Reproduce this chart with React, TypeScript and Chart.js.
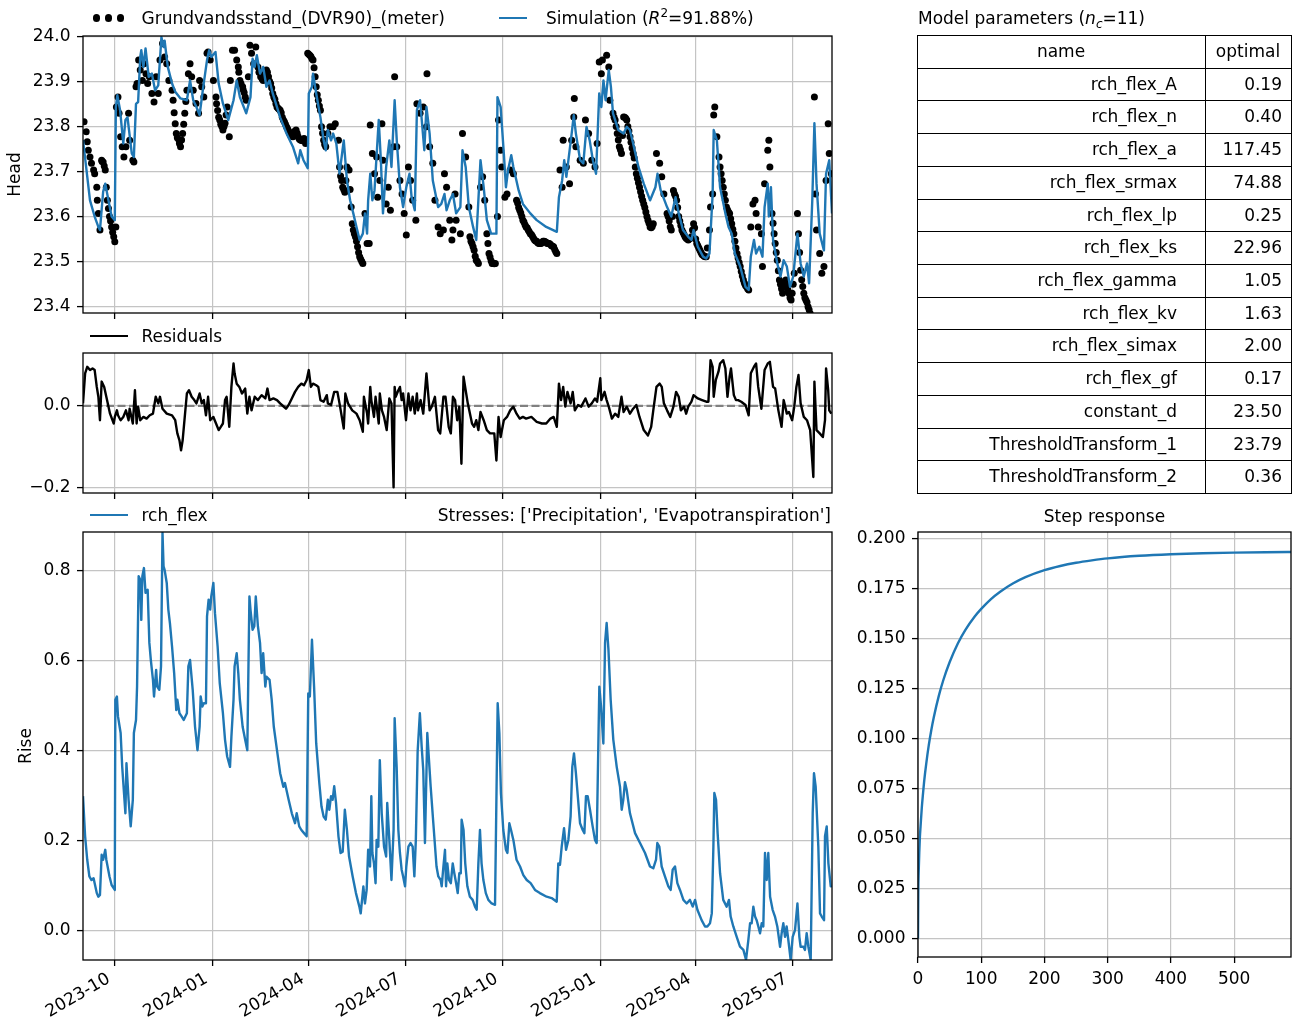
import React, { useEffect, useRef } from "react";
import { Chart, registerables } from "chart.js";

Chart.register(...registerables);

// ---------------- data ----------------
const START = Date.UTC(2023, 8, 1); // day 0 = 2023-09-01
const DAY_MS = 86400000;
const X_END_DAYS = 706.6;

const monthTicks = ["2023-10", "2024-01", "2024-04", "2024-07", "2024-10", "2025-01", "2025-04", "2025-07"];

const headTicks = [23.4, 23.5, 23.6, 23.7, 23.8, 23.9, 24.0];
const residTicks = [-0.2, 0.0];
const riseTicks = [0.0, 0.2, 0.4, 0.6, 0.8];
const stepXTicks = [0, 100, 200, 300, 400, 500];
const stepYTicks = [0, 0.025, 0.05, 0.075, 0.1, 0.125, 0.15, 0.175, 0.2];

// observed heads (days since start, metres)
const obsDays = [1,3,4,5,6.6,8,10,11,13,13.5,14.5,16,17.6,19,21,22,23,25,27,29,30,31,31.5,33,34,35.5,37,38.6,40.5,43,44,47,48,50,51,52.5,54,56,57.5,59.4,61,62.6,65,67,69,71,72.6,75,77,79,81,84,85,87,88,90.6,92,94,96,98,99.4,101,102.5,104,106.6,109,110,112,114,117,118,120,123,125.5,128,129,132,134,136,138,139,141,143,145,146.5,148,150.6,153,154,156,157.5,159,161,163,165,167.6,170,173,175,177,179,183,186,189,192,195,198,201,203,206,208.5,210,212,214,217,219,220,222,224,225,227,229,231,233,236,238,241,242,245,247,249,251,253,254,257,259,261,264,266,268,270,271,273,275,277,278,280,282,283,286,288,290,293,294,296,299,301,303,305,307,309,311,314,315,318,321,324,324.5,327,330,332,335,337,340,341,343,346,348,349,351,352,356,358,361,364,365,368,371,373,375,377,379,381,383,386,389,391,392,394,395,398,400,403,406,409,412,415,418,422,426,431,436,440,444,447,450,452,453,456,459,461,463,463.5,465,469,472,474,477,480,483,485,487,489,490,494,496,497,500,502,504,506,508,510,513,516,519,522,525,529,532,535,538,541,544,546,548,551,554,557,560,562,565,568,571,574,576,579,582,585,588,591,592,594,595,596,598,600,601,603,605,607,610,612,614,617,620,623,626,628,630,632,634,635,637,640,641,643,646,647,648,650,652,655,657,660,663,665,668,671,674,675,677,680,682,684,686,690,691,692,695,697,699,701,703,704,706];
const obsHead = [23.81,23.788,23.766,23.747,23.732,23.718,23.703,23.695,23.665,23.636,23.607,23.57,23.725,23.721,23.703,23.665,23.636,23.6,23.577,23.555,23.544,23.577,23.843,23.865,23.829,23.777,23.755,23.732,23.755,23.829,23.769,23.725,23.721,23.888,23.895,23.947,23.925,23.902,23.939,23.917,23.895,23.91,23.873,23.854,23.91,23.873,23.947,23.984,23.954,23.939,23.902,23.88,23.858,23.806,23.784,23.769,23.755,23.784,23.829,23.88,23.917,23.939,23.91,23.88,23.851,23.829,23.902,23.888,23.865,23.962,23.965,23.947,23.902,23.865,23.82,23.814,23.792,23.807,23.843,23.777,23.902,23.969,23.969,23.947,23.932,23.902,23.888,23.865,23.858,23.91,23.98,23.962,23.939,23.976,23.932,23.91,23.902,23.925,23.91,23.895,23.873,23.843,23.836,23.814,23.799,23.784,23.777,23.792,23.777,23.769,23.773,23.762,23.962,23.958,23.947,23.91,23.888,23.858,23.836,23.799,23.769,23.755,23.784,23.799,23.799,23.806,23.769,23.71,23.665,23.654,23.71,23.703,23.621,23.584,23.555,23.533,23.511,23.496,23.607,23.54,23.54,23.803,23.74,23.695,23.732,23.643,23.68,23.806,23.725,23.628,23.665,23.614,23.755,23.91,23.755,23.68,23.65,23.607,23.559,23.71,23.68,23.636,23.592,23.85,23.829,23.843,23.799,23.917,23.755,23.718,23.636,23.577,23.562,23.57,23.695,23.665,23.592,23.548,23.57,23.65,23.592,23.562,23.784,23.732,23.621,23.555,23.533,23.503,23.496,23.665,23.688,23.636,23.562,23.518,23.496,23.496,23.6,23.814,23.747,23.71,23.643,23.65,23.703,23.695,23.636,23.614,23.592,23.577,23.562,23.548,23.54,23.544,23.54,23.533,23.518,23.703,23.665,23.769,23.71,23.673,23.769,23.821,23.862,23.755,23.725,23.718,23.814,23.784,23.725,23.71,23.762,23.943,23.917,23.947,23.958,23.932,23.858,23.829,23.814,23.784,23.755,23.74,23.821,23.814,23.777,23.74,23.695,23.665,23.628,23.6,23.577,23.584,23.74,23.718,23.688,23.65,23.607,23.577,23.658,23.636,23.6,23.57,23.555,23.548,23.555,23.584,23.54,23.525,23.514,23.511,23.57,23.621,23.65,23.825,23.843,23.777,23.732,23.71,23.68,23.65,23.621,23.607,23.584,23.562,23.518,23.489,23.459,23.444,23.437,23.577,23.628,23.636,23.607,23.577,23.562,23.489,23.673,23.747,23.769,23.71,23.607,23.562,23.503,23.459,23.43,23.459,23.437,23.415,23.474,23.607,23.562,23.481,23.43,23.415,23.4,23.385,23.865,23.65,23.57,23.518,23.474,23.489,23.68,23.806,23.74,23.695];
// further observed heads read along the dense chains of dots
const obsDaysB = [18,20,24,26,28,86,89,91,93,95,97,126,127,130,131,133,135,147,149,151,152,166,169,171,172,174,176,178,180,181,182,184,185,187,188,190,191,193,194,196,197,199,200,202,204,205,207,209,213,215,216,218,221,223,226,228,243,244,246,248,250,252,255,256,258,260,262,263,366,367,369,370,372,382,384,385,387,388,410,411,413,414,416,417,419,420,421,423,424,425,427,428,429,430,432,433,434,435,437,438,439,441,442,443,445,446,501,503,505,507,509,511,512,514,515,517,518,520,521,523,524,526,527,528,530,531,533,534,536,537,552,553,555,556,558,559,561,563,564,566,567,569,570,572,573,575,577,578,580,581,583,584,586,587,589,602,604,606,608,609,611,613,615,616,618,619,621,622,624,625,627,651,653,654,656,658,659,661,662,664,666,667,669,670,676,678,679,681,683,685];
const obsHeadB = [23.722,23.712,23.618,23.59,23.565,23.83,23.775,23.762,23.77,23.805,23.855,23.85,23.835,23.805,23.8,23.8,23.825,23.92,23.895,23.882,23.875,23.92,23.905,23.91,23.918,23.92,23.9,23.885,23.865,23.86,23.85,23.84,23.838,23.83,23.82,23.81,23.805,23.795,23.79,23.78,23.778,23.783,23.79,23.785,23.772,23.77,23.768,23.77,23.96,23.955,23.95,23.93,23.87,23.845,23.785,23.76,23.69,23.68,23.66,23.68,23.705,23.66,23.57,23.562,23.545,23.52,23.505,23.5,23.545,23.54,23.525,23.512,23.5,23.54,23.51,23.502,23.496,23.495,23.63,23.62,23.608,23.6,23.588,23.582,23.575,23.57,23.566,23.56,23.556,23.552,23.546,23.545,23.542,23.54,23.54,23.542,23.545,23.545,23.543,23.54,23.54,23.538,23.535,23.534,23.527,23.522,23.82,23.8,23.77,23.748,23.78,23.82,23.818,23.8,23.79,23.765,23.752,23.73,23.71,23.685,23.675,23.655,23.645,23.636,23.62,23.61,23.592,23.585,23.575,23.578,23.6,23.59,23.57,23.6,23.65,23.645,23.62,23.59,23.58,23.565,23.56,23.552,23.55,23.55,23.552,23.57,23.575,23.55,23.535,23.53,23.52,23.516,23.512,23.511,23.53,23.695,23.665,23.636,23.615,23.61,23.595,23.572,23.545,23.53,23.508,23.498,23.478,23.468,23.452,23.447,23.44,23.585,23.54,23.52,23.48,23.45,23.44,23.445,23.455,23.45,23.43,23.42,23.43,23.45,23.52,23.46,23.445,23.42,23.41,23.393];

const simDays = [0,6.6,11,14.5,16,19,21,24,27,30,31,32.4,35,38,40,42,46,48,50,52,54,55,57,59,62,65,68,71,74,76,77,80,84,87,92,98,101,104,107,110,113,117,119,121,125,128,132,137,142,145,148,154,158,160,162,164,167,170,173,176,179,186,192,198,203,205,208,212,213,216,217,220,224,227,229,231,234,236,239,242,246,249,252,255,258,261,264,266,268,269,271,273,275,279,281,283,286,289,291,294,296,299,302,305,308,310,313,315,318,322,324,327,330,335,338,341,343,346,349,352,356,358,361,364,368,371,375,378,381,385,390,391,394,397,399,401,404,406,411,415,422,428,437,447,449,452,454,456,461,463,465,469,472,475,478,481,484,487,489,491,493,496,498,500,505,510,513,516,519,524,529,535,540,542,545,551,555,559,562,566,571,574,576,580,585,588,591,594,595,598,601,606,609,612,615,620,625,628,630,633,635,638,641,643,646,647,649,651,655,658,661,664,667,670,674,677,680,683,685,688,690,692,695,699,701,704,706.6];
const simHead = [23.77,23.636,23.6,23.577,23.57,23.655,23.673,23.636,23.6,23.592,23.843,23.869,23.836,23.762,23.814,23.82,23.74,23.732,23.85,23.854,23.954,23.969,23.932,23.973,23.91,23.917,23.88,23.891,23.998,23.976,23.99,23.932,23.895,23.877,23.862,23.858,23.902,23.858,23.843,23.825,23.88,23.947,23.969,23.954,23.965,23.895,23.851,23.814,23.858,23.902,23.865,23.829,23.865,23.95,23.932,23.958,23.917,23.932,23.888,23.902,23.873,23.82,23.784,23.755,23.718,23.747,23.725,23.707,23.873,23.888,23.917,23.873,23.82,23.769,23.747,23.792,23.769,23.784,23.762,23.695,23.769,23.68,23.636,23.607,23.577,23.548,23.562,23.607,23.562,23.636,23.695,23.636,23.658,23.814,23.725,23.607,23.71,23.769,23.71,23.858,23.769,23.665,23.621,23.665,23.695,23.643,23.614,23.836,23.858,23.747,23.843,23.784,23.68,23.621,23.628,23.65,23.614,23.636,23.65,23.607,23.621,23.747,23.71,23.621,23.577,23.548,23.725,23.665,23.592,23.562,23.562,23.865,23.843,23.74,23.665,23.703,23.736,23.71,23.658,23.628,23.607,23.592,23.577,23.566,23.643,23.68,23.725,23.688,23.784,23.825,23.784,23.725,23.718,23.799,23.769,23.725,23.695,23.873,23.843,23.902,23.858,23.925,23.888,23.829,23.792,23.784,23.799,23.792,23.762,23.71,23.673,23.636,23.665,23.695,23.658,23.621,23.6,23.643,23.607,23.57,23.555,23.548,23.57,23.533,23.511,23.507,23.518,23.65,23.792,23.769,23.665,23.607,23.577,23.562,23.518,23.489,23.444,23.437,23.511,23.548,23.518,23.533,23.511,23.621,23.673,23.6,23.665,23.548,23.496,23.467,23.503,23.489,23.444,23.467,23.562,23.496,23.467,23.496,23.452,23.636,23.807,23.673,23.562,23.525,23.695,23.725,23.607];

const residDays = [0,2,4,6.6,9,11,13,14.5,16,17.6,20,22,25.5,29,30,32,33,35.5,38,40.5,43,44,47,49,50.6,52,54,57,60,63,66,68.6,71,72.6,75,79,84,87,89,91,92.5,94,96,98,100,102.5,105,107,110,112,114,116,118,120,123,125.5,128,130,132,134,135.5,138,140,142,143,145,147.5,150,153,155,157,159,162,165,168.5,172,174,176,179.6,183,186,189,191.5,194,197,200,203,206,208.5,211,213,215,217,220,222,224,227,230,231,234,237,240,242,246,247.5,250,254,258,261,264,265,268,269,271,272,274.5,276,279,280,282,284,286.5,289,291,293,294,295,297.5,299,300.6,302,304.7,307,309,311,313,315,316,318.5,321,324,327,329,332,335,337,340,342,345,347,349,351,353,355,357,359,361,363,367,369,371,373,375,378,381,384,388,390,392,394,397,400,403,406,409,412,415,418,423,428,433,437,441,444,447,449,451,453,455,457,460,462,464,467,470,474,477,480,483,485,488,489,492,494,496,499,502,505,508,510,513,516,519,522,525,529,533,536,538,541,544,546,548,551,554,557,559.5,562,564,567,569,571,574,576,580,584,588,590,592,594,595,597,599.5,601,604,606,608,610,611.3,614,616,618,621,625,628,630,633,635,637,640,643,646,648,651,653,656,659,661,664,666,669,671,673,675,677,680,683,686,689,690,692,695,698,700,701,703,704,706];
const residValues = [0.006,0.079,0.095,0.087,0.091,0.087,0.046,0.022,-0.035,0.059,0.046,0.022,-0.019,-0.043,-0.027,-0.011,-0.023,-0.035,-0.027,-0.011,-0.035,-0.007,-0.043,0.038,-0.043,-0.002,-0.035,-0.027,-0.031,-0.023,-0.019,0.022,0.006,0.022,-0.007,-0.019,-0.023,-0.035,-0.067,-0.084,-0.108,-0.084,-0.027,0.03,0.038,0.022,0.014,0.006,0.03,0.006,0.014,-0.023,0.022,-0.035,-0.027,-0.043,-0.059,-0.051,-0.043,0.014,0.022,-0.051,0.046,0.103,0.079,0.054,0.046,0.03,0.042,-0.019,0.022,-0.011,0.022,0.014,0.026,0.018,0.042,0.014,0.018,0.014,0.006,-0.001,-0.007,0.002,0.018,0.034,0.046,0.054,0.05,0.063,0.087,0.046,0.054,0.05,0.046,0.014,0.01,0.026,0.006,0.002,0.034,0.034,0.006,-0.055,0.03,0.006,-0.011,-0.019,-0.035,-0.063,0.022,-0.019,-0.043,0.046,0.014,-0.027,0.022,-0.043,0.03,-0.011,-0.027,-0.059,0.018,0.006,-0.198,0.046,0.022,0.038,0.046,0.014,0.03,-0.035,0.03,-0.011,0.022,-0.019,0.03,-0.011,0.014,-0.019,0.079,-0.011,-0.002,0.022,-0.059,-0.067,0.022,0.022,-0.051,-0.067,0.022,0.014,-0.035,-0.002,-0.141,0.071,0.038,0.006,-0.043,-0.051,-0.035,-0.059,-0.015,-0.035,-0.059,-0.067,-0.067,-0.133,-0.027,-0.076,-0.035,-0.027,-0.011,-0.002,-0.019,-0.031,-0.027,-0.031,-0.027,-0.039,-0.043,-0.043,-0.031,-0.027,-0.051,0.054,0.014,0.046,-0.002,0.034,0.006,0.034,-0.011,0.002,-0.002,0.018,-0.002,0.006,0.018,0.01,0.067,0.014,0.034,0.014,-0.002,-0.031,-0.019,-0.027,0.022,-0.015,-0.002,-0.019,-0.007,0.002,-0.027,-0.059,-0.072,-0.051,-0.011,0.046,0.054,0.046,0.006,-0.011,-0.027,-0.002,0.034,0.022,-0.011,-0.002,-0.019,-0.002,0.01,0.026,0.018,0.014,0.01,0.01,0.111,0.095,0.022,0.063,0.083,0.103,0.111,0.091,0.022,0.071,0.091,0.026,0.014,0.014,0.01,0.002,-0.023,0.079,0.095,0.103,0.046,-0.007,0.087,0.103,0.107,0.046,0.042,-0.011,-0.051,0.014,-0.019,-0.015,-0.035,-0.002,0.046,0.075,0.006,-0.027,-0.035,-0.059,-0.173,0.059,-0.059,-0.067,-0.076,-0.035,0.091,0.038,-0.011,-0.019];

const riseDays = [0,2,4,6,8,10,11,13,14.5,16,17.6,19,21,22,25,27,30,30.5,32,33,35.5,37,40,41,43,45,47,48,50,51,52.5,54,55,56,57.5,59,61,62.6,64,66,67,69,70,72,73.6,75,76,77,79,80.5,82,84,86,88,89,91,93,95,98,99.4,101,103.5,105.7,108,110,111,112.6,114,116,117,118.5,120,121,123,124.5,127,129,132,134,136,138.7,140,142,143,145,146.5,148,150.6,153,155,157,158,160,161.6,163,165,167,168.5,170,172,173,176,178,180,183,186,189,190.5,194,197,200,201.6,204,206,208.5,211,212.5,214,216,218,220,223,225,227,229,231,232.4,234,235.5,237,238.7,241,243,245,247,249,251,254.4,257.5,260.7,262,264.5,266,267.6,269,270.8,272,273,274.5,276,277,278.6,280,281.8,284,286,287,289,291,293,294,295.9,297.5,299,300.6,302,303.8,305,307,309,311,312.6,314,315.7,317.8,319.5,321,322.6,324.8,326.4,328,330.5,333.5,335.2,337.4,338.4,340,341.5,342.5,343.7,345.3,347,348.8,350.3,352,353.5,355,356.4,357.2,359,360.6,362.6,365,367.6,369.8,371.4,373,374.5,376,377.7,380,382.4,385.5,388.7,391.2,392.8,394.3,396.5,399,400.4,402.2,403.8,406,409,412.3,415.4,418.6,422.3,426.4,431,437.4,442.1,446.9,448.4,450,451.6,453.8,455.7,457.9,460,461.6,463.2,465,468.9,471.4,473,474.5,476.1,478.3,480.8,483,484.6,487.1,488.7,490.9,492.5,494,495.7,497.8,500.3,503.5,506.6,508.2,509.7,511.3,512.9,516,520.8,525.5,530.2,534.9,538,540.6,541.8,543.7,545.9,549,552.2,554.4,556.3,558.5,560.7,563.2,566.4,569.5,572.6,575.2,577.4,579.6,583.6,586.8,589,591.5,593.2,594.7,595.6,597.2,598.7,601,604,607.2,609.4,611,613.5,616.7,619.8,623,625.5,627.7,629.3,630.8,632.4,634,635.5,637.1,638.7,640.3,641.8,643.4,645,646.5,648.2,650.6,652.8,655,657.6,659.1,660.7,662.3,663.8,665.4,667.6,669.5,671.7,674,675.8,677,679.6,681.1,682.7,684.3,686.5,688.4,689.6,691.2,693.7,695.3,696.9,699.1,700,701.6,703.2,705.4,706.6];
const riseValues = [0.299,0.21,0.158,0.121,0.113,0.117,0.106,0.084,0.076,0.08,0.169,0.158,0.18,0.158,0.121,0.102,0.091,0.513,0.52,0.476,0.439,0.364,0.261,0.372,0.291,0.232,0.291,0.439,0.468,0.542,0.787,0.779,0.69,0.787,0.805,0.75,0.757,0.639,0.601,0.557,0.52,0.579,0.542,0.535,0.587,0.883,0.809,0.801,0.772,0.713,0.683,0.631,0.572,0.49,0.513,0.483,0.476,0.468,0.483,0.587,0.601,0.535,0.453,0.401,0.453,0.52,0.498,0.505,0.505,0.698,0.735,0.713,0.742,0.772,0.705,0.631,0.55,0.483,0.424,0.387,0.364,0.431,0.513,0.587,0.616,0.572,0.513,0.453,0.424,0.401,0.742,0.713,0.668,0.676,0.742,0.676,0.639,0.572,0.616,0.542,0.564,0.557,0.513,0.453,0.401,0.35,0.32,0.328,0.291,0.261,0.239,0.261,0.232,0.224,0.217,0.21,0.527,0.52,0.646,0.542,0.416,0.327,0.276,0.254,0.247,0.291,0.269,0.299,0.291,0.321,0.284,0.21,0.173,0.176,0.269,0.224,0.165,0.121,0.084,0.054,0.039,0.099,0.061,0.091,0.18,0.143,0.299,0.173,0.15,0.106,0.202,0.187,0.379,0.261,0.187,0.165,0.284,0.202,0.113,0.224,0.472,0.364,0.224,0.173,0.136,0.121,0.099,0.143,0.187,0.195,0.187,0.121,0.202,0.398,0.483,0.409,0.357,0.195,0.439,0.379,0.32,0.239,0.143,0.121,0.113,0.099,0.143,0.18,0.099,0.15,0.113,0.106,0.15,0.128,0.106,0.084,0.128,0.128,0.247,0.224,0.15,0.099,0.076,0.069,0.054,0.047,0.15,0.224,0.15,0.113,0.084,0.069,0.061,0.058,0.505,0.439,0.305,0.224,0.18,0.173,0.239,0.224,0.202,0.158,0.143,0.124,0.113,0.106,0.091,0.084,0.076,0.073,0.065,0.15,0.147,0.187,0.228,0.18,0.202,0.254,0.364,0.394,0.35,0.239,0.224,0.217,0.299,0.299,0.269,0.232,0.202,0.195,0.542,0.498,0.416,0.639,0.683,0.624,0.513,0.424,0.364,0.32,0.269,0.291,0.33,0.313,0.261,0.217,0.195,0.173,0.143,0.139,0.158,0.195,0.187,0.143,0.121,0.099,0.091,0.136,0.143,0.106,0.091,0.069,0.061,0.069,0.054,0.069,0.047,0.024,0.01,0.01,0.017,0.039,0.187,0.306,0.291,0.217,0.128,0.069,0.054,0.069,0.032,0.01,-0.013,-0.035,-0.042,-0.064,-0.02,0.017,0.017,0.054,0.032,0.024,0.01,-0.005,0.017,0.01,0.173,0.113,0.173,0.076,0.047,0.032,0.01,-0.035,-0.005,0.017,-0.013,0.01,-0.02,-0.064,-0.013,0.002,0.061,-0.013,-0.035,-0.035,-0.042,-0.005,-0.035,-0.064,0.261,0.35,0.32,0.187,0.039,0.032,0.024,0.21,0.232,0.15,0.099,0.1];

const stepT = [0,0.5,1,2,3,4,6,8,10,13,17,21,25,33,40,50,63,75,90,100,115,130,150,170,200,225,250,275,300,350,400,450,500,550,590];
const stepValues = [0,0.0245,0.0323,0.043,0.051,0.0559,0.0655,0.0728,0.0795,0.0875,0.0967,0.1043,0.1108,0.1216,0.1293,0.1383,0.1477,0.1545,0.1613,0.165,0.1698,0.1736,0.1777,0.1809,0.1844,0.1865,0.1881,0.1893,0.1903,0.1916,0.1924,0.1929,0.1932,0.1934,0.1935];

const paramNames = ["rch_flex_A","rch_flex_n","rch_flex_a","rch_flex_srmax","rch_flex_lp","rch_flex_ks","rch_flex_gamma","rch_flex_kv","rch_flex_simax","rch_flex_gf","constant_d","ThresholdTransform_1","ThresholdTransform_2"];
const paramOptimal = ["0.19","0.40","117.45","74.88","0.25","22.96","1.05","1.63","2.00","0.17","23.50","23.79","0.36"];

// ---------------- styling / layout ----------------
const W = 1292;
const H = 1026;
const FONT = "'DejaVu Sans', 'Liberation Sans', sans-serif";
const FS = 17;
const BLUE = "#1f77b4";
const GRID = "#c4c4c4";
const LW = 2.4;

type Box = { l: number; t: number; r: number; b: number };
const headBox: Box = { l: 83, t: 36, r: 832, b: 313 };
const residBox: Box = { l: 83, t: 353, r: 832, b: 493 };
const riseBox: Box = { l: 83, t: 532, r: 832, b: 960 };
const stepBox: Box = { l: 918, t: 532, r: 1291, b: 957 };
const tableBox = { l: 917, t: 35, col: 1205, r: 1291, b: 493 };

const dayOf = (label: string) => {
  const [y, m] = label.split("-").map(Number);
  return (Date.UTC(y, m - 1, 1) - START) / DAY_MS;
};
const monthTickDays = monthTicks.map(dayOf);

const pts = (xs: number[], ys: number[]) => xs.map((x, i) => ({ x, y: ys[i] }));

const framePlugin = {
  id: "frame",
  afterDatasetsDraw(chart: any) {
    const { ctx, chartArea: a } = chart;
    ctx.save();
    ctx.strokeStyle = "#000";
    ctx.lineWidth = 1.3;
    ctx.strokeRect(a.left, a.top, a.right - a.left, a.bottom - a.top);
    ctx.restore();
  },
};

const gridOpts = () => ({ color: GRID, lineWidth: 1.2, tickColor: "#000", tickWidth: 1.3, tickLength: 6 });
const tickFont = { family: FONT, size: FS };

function layoutFor(box: Box, yW: number, xH: number) {
  return { padding: { left: box.l - yW, top: box.t, right: W - box.r, bottom: H - box.b - xH } };
}

function timeAxis(showLabels: boolean, xH: number) {
  return {
    type: "linear",
    min: 0,
    max: X_END_DAYS,
    afterBuildTicks: (s: any) => {
      s.ticks = monthTickDays.map((v) => ({ value: v }));
    },
    afterFit: (s: any) => {
      s.height = xH;
      s.paddingLeft = 0;
      s.paddingRight = 0;
    },
    ticks: {
      display: showLabels,
      autoSkip: false,
      minRotation: 30,
      maxRotation: 30,
      padding: 3,
      labelOffset: -6,
      color: "#000",
      font: tickFont,
      callback: (_v: any, i: number) => monthTicks[i],
    },
    grid: gridOpts(),
    border: { display: false },
  };
}

function valueAxis(min: number, max: number, ticks: number[], yW: number, fmt: (v: number) => string, title?: string, titlePad = 0) {
  return {
    type: "linear",
    min,
    max,
    afterBuildTicks: (s: any) => {
      s.ticks = ticks.map((v) => ({ value: v }));
    },
    afterFit: (s: any) => {
      s.width = yW;
      s.paddingTop = 0;
      s.paddingBottom = 0;
    },
    ticks: { padding: 6.5, color: "#000", font: tickFont, callback: (v: any) => fmt(Number(v)) },
    grid: gridOpts(),
    border: { display: false },
    title: title
      ? { display: true, text: title, color: "#000", font: { family: FONT, size: FS }, padding: { top: titlePad, bottom: 0 } }
      : { display: false },
  };
}

const baseOptions = (layout: any, scales: any) => ({
  responsive: false,
  maintainAspectRatio: false,
  devicePixelRatio: 1,
  animation: false,
  events: [],
  layout,
  scales,
  plugins: { legend: { display: false }, tooltip: { enabled: false }, title: { display: false } },
});

const headConfig = () => ({
  type: "line",
  data: {
    datasets: [
      { data: pts(simDays, simHead), borderColor: BLUE, borderWidth: LW, pointRadius: 0, borderJoinStyle: "round", order: 0, clip: 0 },
      {
        data: pts([...obsDays, ...obsDaysB], [...obsHead, ...obsHeadB]),
        showLine: false,
        pointRadius: 3.5,
        pointBorderWidth: 0,
        pointBackgroundColor: "#000",
        backgroundColor: "#000",
        order: 1,
        clip: 0,
      },
    ],
  },
  options: baseOptions(layoutFor(headBox, 83, 10), {
    x: timeAxis(false, 10),
    y: valueAxis(23.386, 24.0005, headTicks, 83, (v) => v.toFixed(1), "Head", 5.5),
  }),
  plugins: [framePlugin],
});

const residConfig = () => ({
  type: "line",
  data: {
    datasets: [
      { data: pts(residDays, residValues), borderColor: "#000", borderWidth: LW, pointRadius: 0, borderJoinStyle: "round", order: 0, clip: 0 },
      { data: [{ x: 0, y: 0 }, { x: X_END_DAYS, y: 0 }], borderColor: "#808080", borderWidth: 2.2, borderDash: [8, 3.5], pointRadius: 0, order: 1, clip: 0 },
    ],
  },
  options: baseOptions(layoutFor(residBox, 83, 10), {
    x: timeAxis(false, 10),
    y: valueAxis(-0.212, 0.1285, residTicks, 83, (v) => (Math.abs(v) < 1e-9 ? "0.0" : v.toFixed(1).replace("-", "\u2212"))),
  }),
  plugins: [framePlugin],
});

const riseConfig = () => ({
  type: "line",
  data: {
    datasets: [
      { data: pts(riseDays, riseValues), borderColor: BLUE, borderWidth: LW, pointRadius: 0, borderJoinStyle: "round", clip: 0 },
    ],
  },
  options: baseOptions(layoutFor(riseBox, 83, 66), {
    x: timeAxis(true, 66),
    y: valueAxis(-0.0644, 0.885, riseTicks, 83, (v) => v.toFixed(1), "Rise", 16.5),
  }),
  plugins: [framePlugin],
});

const stepConfig = () => ({
  type: "line",
  data: {
    datasets: [
      { data: pts(stepT, stepValues), borderColor: BLUE, borderWidth: LW, pointRadius: 0, cubicInterpolationMode: "monotone", clip: 0 },
    ],
  },
  options: baseOptions(layoutFor(stepBox, 78, 40), {
    x: {
      type: "linear",
      min: 0,
      max: 590,
      afterBuildTicks: (s: any) => {
        s.ticks = stepXTicks.map((v) => ({ value: v }));
      },
      afterFit: (s: any) => {
        s.height = 40;
        s.paddingLeft = 0;
        s.paddingRight = 0;
      },
      ticks: { padding: 6, maxRotation: 0, minRotation: 0, autoSkip: false, color: "#000", font: tickFont, callback: (v: any) => String(v) },
      grid: gridOpts(),
      border: { display: false },
    },
    y: valueAxis(-0.0092, 0.2035, stepYTicks, 78, (v) => v.toFixed(3)),
  }),
  plugins: [framePlugin],
});

function ChartCanvas({ make }: { make: () => any }) {
  const ref = useRef<HTMLCanvasElement | null>(null);
  useEffect(() => {
    if (!ref.current) return;
    const chart = new Chart(ref.current, make());
    return () => chart.destroy();
  }, []);
  return <canvas ref={ref} width={W} height={H} style={{ position: "absolute", left: 0, top: 0, width: W, height: H }} />;
}

const textStyle = (extra: React.CSSProperties): React.CSSProperties => ({
  position: "absolute",
  whiteSpace: "nowrap",
  fontSize: FS,
  lineHeight: "20px",
  height: 20,
  ...extra,
});

const lineSample = (x1: number, x2: number, y: number, color: string): React.CSSProperties => ({
  position: "absolute",
  left: x1,
  top: y - 1.2,
  width: x2 - x1,
  height: 2.4,
  background: color,
});

const dot = (cx: number, cy: number): React.CSSProperties => ({
  position: "absolute",
  left: cx - 3.6,
  top: cy - 3.6,
  width: 7.2,
  height: 7.2,
  borderRadius: "50%",
  background: "#000",
});

function ParamTable() {
  const rows = [["name", "optimal"], ...paramNames.map((n, i) => [n, paramOptimal[i]])];
  const rowH = (tableBox.b - tableBox.t) / rows.length;
  const hLine = (y: number): React.CSSProperties => ({
    position: "absolute",
    left: tableBox.l,
    top: Math.round(y),
    width: tableBox.r - tableBox.l + 1,
    height: 1,
    background: "#000",
  });
  const vLine = (x: number): React.CSSProperties => ({
    position: "absolute",
    left: Math.round(x),
    top: tableBox.t,
    width: 1,
    height: tableBox.b - tableBox.t + 1,
    background: "#000",
  });
  const cellText = (left: number, width: number, top: number, align: "left" | "right" | "center", padRight: number): React.CSSProperties => ({
    position: "absolute",
    left,
    top,
    width: width - padRight,
    height: rowH,
    lineHeight: `${rowH}px`,
    textAlign: align,
    fontSize: FS,
    whiteSpace: "nowrap",
  });
  return (
    <>
      {rows.map((r, i) => {
        const top = tableBox.t + i * rowH;
        const header = i === 0;
        return (
          <React.Fragment key={r[0]}>
            <div style={cellText(tableBox.l, tableBox.col - tableBox.l, top, header ? "center" : "right", header ? 0 : 28)}>{r[0]}</div>
            <div style={cellText(tableBox.col, tableBox.r - tableBox.col, top, header ? "center" : "right", header ? 0 : 9)}>{r[1]}</div>
          </React.Fragment>
        );
      })}
      {rows.map((_r, i) => (
        <div key={"h" + i} style={hLine(tableBox.t + i * rowH)} />
      ))}
      <div style={hLine(tableBox.b)} />
      <div style={vLine(tableBox.l)} />
      <div style={vLine(tableBox.col)} />
      <div style={vLine(tableBox.r)} />
    </>
  );
}

export default function App() {
  return (
    <div style={{ position: "absolute", left: 0, top: 0, width: W, height: H, overflow: "hidden", background: "#fff", fontFamily: FONT, color: "#000" }}>
      <ChartCanvas make={headConfig} />
      <ChartCanvas make={residConfig} />
      <ChartCanvas make={riseConfig} />
      <ChartCanvas make={stepConfig} />

      {/* Head legend */}
      <div style={dot(96.6, 18)} />
      <div style={dot(108.5, 18)} />
      <div style={dot(120.5, 18)} />
      <div style={textStyle({ left: 141.5, top: 8 })}>Grundvandsstand_(DVR90)_(meter)</div>
      <div style={lineSample(499, 527, 18, BLUE)} />
      <div style={textStyle({ left: 546, top: 8 })}>
        Simulation (<i>R</i>
        <span style={{ fontSize: 12, position: "relative", top: -7 }}>2</span>=91.88%)
      </div>

      {/* Residuals legend */}
      <div style={lineSample(90, 128, 336, "#000")} />
      <div style={textStyle({ left: 141.5, top: 326 })}>Residuals</div>

      {/* Rise legend + stresses */}
      <div style={lineSample(90, 128, 515, BLUE)} />
      <div style={textStyle({ left: 141.5, top: 505 })}>rch_flex</div>
      <div style={textStyle({ left: 0, width: 831, textAlign: "right", top: 505 })}>Stresses: ['Precipitation', 'Evapotranspiration']</div>

      {/* Step response title */}
      <div style={textStyle({ left: stepBox.l, width: stepBox.r - stepBox.l, textAlign: "center", top: 506 })}>Step response</div>

      {/* Parameter table */}
      <div style={textStyle({ left: 918, top: 8 })}>
        Model parameters (<i>n</i>
        <span style={{ fontSize: 12, position: "relative", top: 4, fontStyle: "italic" }}>c</span>=11)
      </div>
      <ParamTable />
    </div>
  );
}
